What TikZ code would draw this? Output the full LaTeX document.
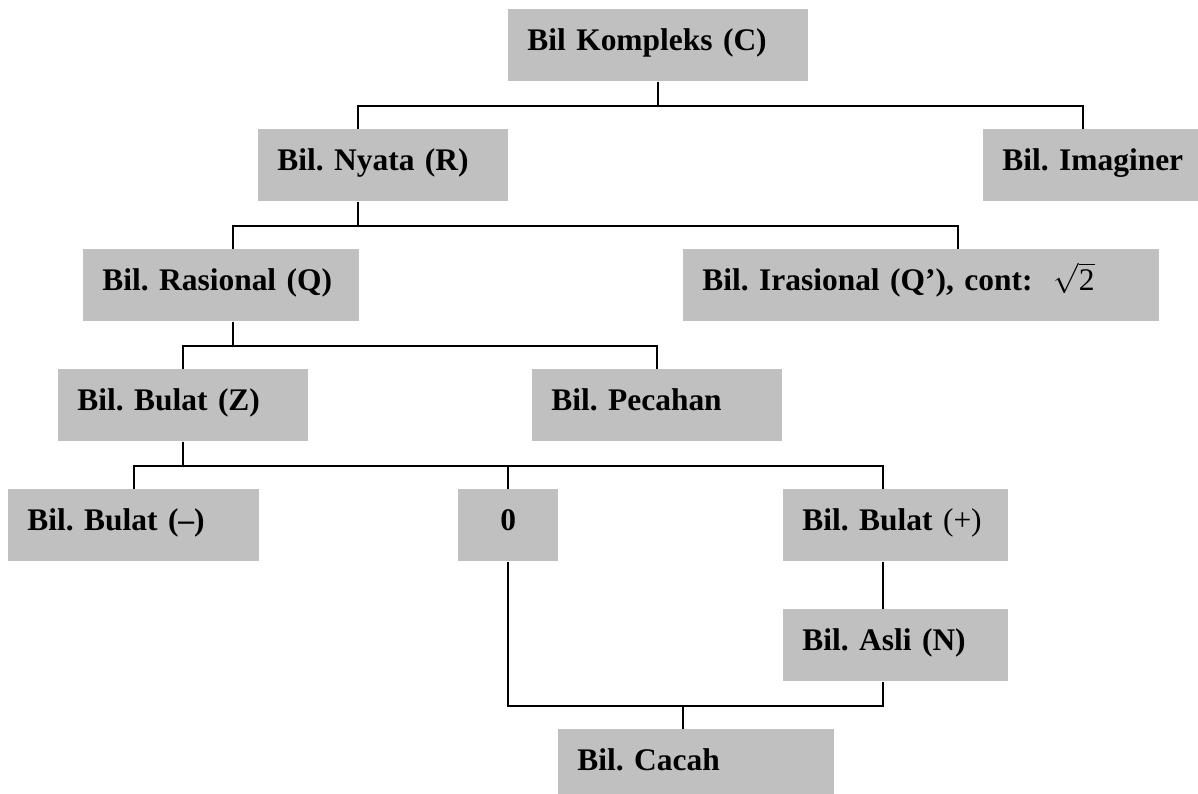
\documentclass[tikz,border=0pt]{standalone}
\usepackage{fontspec}
\setmainfont{Liberation Serif}
\usetikzlibrary{calc}
\definecolor{abu}{HTML}{C0C0C0}
\frenchspacing

\begin{document}
\begin{tikzpicture}[x=0.02cm, y=-0.02cm,
	kotak/.style={fill=abu, anchor=north west, inner xsep=0.38cm, inner ysep=0pt,
		minimum height=1.44cm, text height=0.46cm, text depth=0.26cm, align=left,
		font=\fontsize{17.9}{22}\selectfont\bfseries},
	garis/.style={line width=1.1pt}]
		%%%%% START %%%%%
		\useasboundingbox (0,0) rectangle (1198,794);
		\clip (0,0) rectangle (1198,794);
		
		\node[kotak, text width=5.24cm] (kompleks) at (508,9) {Bil Kompleks (C)};
		
		\node[kotak, text width=4.24cm] (nyata) at (258,129) {Bil. Nyata (R)};
		\node[kotak, text width=3.84cm] (imaginer) at (983,129) {Bil. Imaginer};
		
		\node[kotak, text width=4.76cm] (rasional) at (83,249) {Bil. Rasional (Q)};
		\node[kotak, text width=8.76cm] (irasional) at (683,249) {Bil. Irasional (Q’), cont:\ \ $\sqrt{\mbox{\mdseries 2}}$};
		
		\node[kotak, text width=4.24cm] (bulatz) at (58,369) {Bil. Bulat (Z)};
		\node[kotak, text width=4.24cm] (pecahan) at (532,369) {Bil. Pecahan};
		
		\node[kotak, text width=4.26cm] (bulatneg) at (8,489) {Bil. Bulat (–)};
		\node[kotak, text width=1.24cm, align=center] (nol) at (458,489) {0};
		\node[kotak, text width=3.74cm] (bulatpos) at (783,489) {Bil. Bulat {\mdseries(+)}};
		
		\node[kotak, text width=3.74cm] (asli) at (783,609) {Bil. Asli (N)};
		
		\node[kotak, text width=4.76cm] (cacah) at (558,729) {Bil. Cacah};
		
		% titik sambung
		\coordinate (nyata-atas) at ($(nyata.north west)+(100,0)$);
		\coordinate (nyata-bawah) at ($(nyata.south west)+(100,0)$);
		\coordinate (imaginer-atas) at ($(imaginer.north west)+(100,0)$);
		\coordinate (rasional-atas) at ($(rasional.north west)+(150,0)$);
		\coordinate (rasional-bawah) at ($(rasional.south west)+(150,0)$);
		\coordinate (irasional-atas) at ($(irasional.north west)+(275,0)$);
		\coordinate (bulatpos-atas) at ($(bulatpos.north west)+(100,0)$);
		\coordinate (bulatpos-bawah) at ($(bulatpos.south west)+(100,0)$);
		\coordinate (asli-atas) at ($(asli.north west)+(100,0)$);
		\coordinate (asli-bawah) at ($(asli.south west)+(100,0)$);
		\coordinate (cacah-atas) at ($(cacah.north west)+(125,0)$);
		
		\draw[garis] (kompleks.south) -- ++(0,24) -| (nyata-atas);
		\draw[garis] (kompleks.south) -- ++(0,24) -| (imaginer-atas);
		
		\draw[garis] (nyata-bawah) -- ++(0,24) -| (rasional-atas);
		\draw[garis] (nyata-bawah) -- ++(0,24) -| (irasional-atas);
		
		\draw[garis] (rasional-bawah) -- ++(0,24) -| (bulatz.north);
		\draw[garis] (rasional-bawah) -- ++(0,24) -| (pecahan.north);
		
		\draw[garis] (bulatz.south) -- ++(0,24) -| (bulatneg.north);
		\draw[garis] (bulatz.south) -- ++(0,24) -| (nol.north);
		\draw[garis] (bulatz.south) -- ++(0,24) -| (bulatpos-atas);
		
		\draw[garis] (bulatpos-bawah) -- (asli-atas);
		\draw[garis] (nol.south) -- ++(0,144) -| (asli-bawah);
		\draw[garis] (cacah-atas) -- ++(0,-24);
		%%%%% END %%%%%
\end{tikzpicture}
\end{document}
